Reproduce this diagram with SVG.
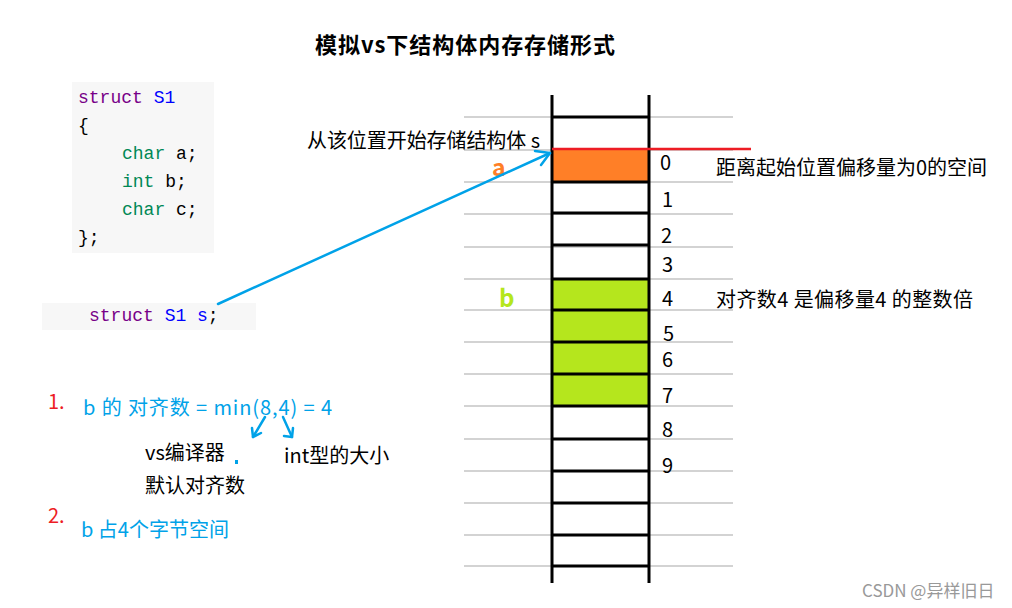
<svg xmlns="http://www.w3.org/2000/svg" width="1012" height="608" viewBox="0 0 1012 608">
<style>
.t{font-family:"Noto Sans CJK SC","Noto Sans",sans-serif;}
.code{font-family:"Liberation Mono","DejaVu Sans Mono",monospace;font-size:18px;}
.kw{fill:#770088}.df{fill:#0000ff}.ty{fill:#008855}.pl{fill:#000}
.grid{stroke:#d3d3d3;stroke-width:2}
.cell{stroke:#000;stroke-width:3}
.num{font-size:20px;fill:#000}
.lbl{font-size:20px;fill:#000}
.blue{fill:#00a2e8;font-size:20px}
.red{fill:#ed1c24;font-size:20px}
.arrow{stroke:#00a2e8;stroke-width:2.5;fill:none;stroke-linecap:round;stroke-linejoin:round}
</style>
<rect width="1012" height="608" fill="#fff"/>
<g id="title"><text class="t" x="315" y="53" font-size="22" font-weight="bold" fill="#000" textLength="300" lengthAdjust="spacing">模拟vs下结构体内存存储形式</text></g>
<g id="code-struct">
<rect x="72" y="82" width="142" height="171" fill="#f7f7f7"/>
<text class="code" x="78" y="103"><tspan class="kw">struct</tspan> <tspan class="df">S1</tspan></text>
<text class="code pl" x="78" y="131">{</text>
<text class="code" x="122" y="159"><tspan class="ty">char</tspan> <tspan class="pl">a;</tspan></text>
<text class="code" x="122" y="187"><tspan class="ty">int</tspan> <tspan class="pl">b;</tspan></text>
<text class="code" x="122" y="215"><tspan class="ty">char</tspan> <tspan class="pl">c;</tspan></text>
<text class="code pl" x="78" y="243">};</text>
</g>
<g id="code-decl">
<rect x="42" y="303" width="214" height="27" fill="#f7f7f7"/>
<text class="code" x="89" y="321"><tspan class="kw">struct</tspan> <tspan class="df">S1</tspan> <tspan class="df">s</tspan><tspan class="pl">;</tspan></text>
</g>
<g id="memory">
<g class="grid">
<line x1="464" y1="117" x2="733" y2="117"/>
<line x1="464" y1="150" x2="733" y2="150"/>
<line x1="464" y1="182" x2="733" y2="182"/>
<line x1="464" y1="214" x2="733" y2="214"/>
<line x1="464" y1="247" x2="733" y2="247"/>
<line x1="464" y1="279" x2="733" y2="279"/>
<line x1="464" y1="310" x2="733" y2="310"/>
<line x1="464" y1="342" x2="733" y2="342"/>
<line x1="464" y1="374" x2="733" y2="374"/>
<line x1="464" y1="406" x2="733" y2="406"/>
<line x1="464" y1="439" x2="733" y2="439"/>
<line x1="464" y1="471" x2="733" y2="471"/>
<line x1="464" y1="503" x2="733" y2="503"/>
<line x1="464" y1="535" x2="733" y2="535"/>
<line x1="464" y1="566" x2="733" y2="566"/>
</g>
<rect x="552" y="149" width="97" height="33" fill="#ff7f27"/>
<rect x="552" y="279" width="97" height="127" fill="#b5e61d"/>
<g class="cell">
<line x1="552" y1="117" x2="649" y2="117"/>
<line x1="552" y1="182" x2="649" y2="182"/>
<line x1="552" y1="213" x2="649" y2="213"/>
<line x1="552" y1="245" x2="649" y2="245"/>
<line x1="552" y1="279" x2="649" y2="279"/>
<line x1="552" y1="310" x2="649" y2="310"/>
<line x1="552" y1="342" x2="649" y2="342"/>
<line x1="552" y1="374" x2="649" y2="374"/>
<line x1="552" y1="406" x2="649" y2="406"/>
<line x1="552" y1="439" x2="649" y2="439"/>
<line x1="552" y1="471" x2="649" y2="471"/>
<line x1="552" y1="503" x2="649" y2="503"/>
<line x1="552" y1="535" x2="649" y2="535"/>
<line x1="552" y1="566" x2="649" y2="566"/>
<line x1="552" y1="95" x2="552" y2="583"/>
<line x1="649" y1="95" x2="649" y2="583"/>
</g>
<line x1="552" y1="149" x2="751" y2="149" stroke="#ed1c24" stroke-width="2.5"/>
<g class="t num">
<text x="660" y="170">0</text>
<text x="662" y="207">1</text>
<text x="661" y="243">2</text>
<text x="662" y="272">3</text>
<text x="662" y="306">4</text>
<text x="663" y="341">5</text>
<text x="662" y="367">6</text>
<text x="662" y="403">7</text>
<text x="662" y="437">8</text>
<text x="662" y="473">9</text>
</g>
<text class="t" x="492" y="176" font-size="23" font-weight="bold" fill="#ff7f27">a</text>
<text class="t" x="499" y="307" font-size="24" font-weight="bold" fill="#b5e61d">b</text>
</g>
<g id="labels" class="t">
<text class="lbl" x="307" y="148" textLength="233" lengthAdjust="spacing">从该位置开始存储结构体 s</text>
<text class="lbl" x="716" y="175" textLength="271" lengthAdjust="spacing">距离起始位置偏移量为0的空间</text>
<text class="lbl" x="716" y="307" textLength="257" lengthAdjust="spacing">对齐数4 是偏移量4 的整数倍</text>
</g>
<g id="notes" class="t">
<text class="red" x="48" y="409">1.</text>
<text class="blue" x="83" y="415" textLength="249" lengthAdjust="spacing">b 的 对齐数 = min(8,4) = 4</text>
<text class="lbl" x="145" y="460">vs编译器</text>
<text class="lbl" x="145" y="493">默认对齐数</text>
<text class="lbl" x="284" y="463">int型的大小</text>
<rect x="235" y="460" width="3" height="4" fill="#00a2e8"/>
<text class="red" x="48" y="523">2.</text>
<text class="blue" x="81" y="537">b 占4个字节空间</text>
</g>
<g id="connectors">
<line class="arrow" x1="218" y1="304" x2="550" y2="153"/>
<polyline class="arrow" points="535,151 550,153 541,165"/>
<line class="arrow" x1="265" y1="417" x2="253" y2="437"/>
<polyline class="arrow" points="252,428 253,437 261,433"/>
<line class="arrow" x1="283" y1="417" x2="292" y2="437"/>
<polyline class="arrow" points="284,436 292,437 293,428"/>
</g>
<g id="watermark"><text class="t" x="862" y="597" font-size="17" fill="#999">CSDN @异样旧日</text></g>
</svg>
